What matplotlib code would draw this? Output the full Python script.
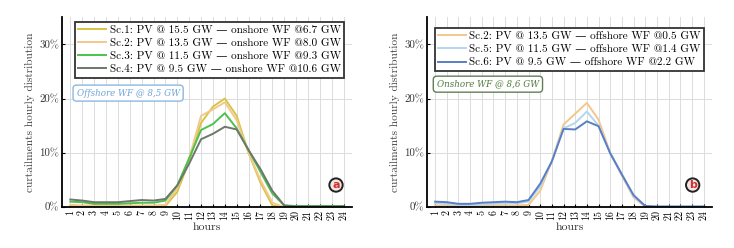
import numpy as np
import matplotlib
matplotlib.use('Agg')
import matplotlib.pyplot as plt

plt.rcParams['font.family'] = ['cmr10', 'DejaVu Serif']
plt.rcParams['axes.formatter.use_mathtext'] = True

# --- data ---
hours = list(range(1, 25))

# panel a: onshore scenarios (offshore WF fixed)
sc1 = [0.1, 0.1, 0.1, 0.1, 0.1, 0.1, 0.1, 0.1, 0.2, 2.8, 8.5, 15.5,
       18.5, 20.0, 16.8, 10.0, 4.5, 0.3, 0.0, 0.0, 0.0, 0.0, 0.0, 0.0]
sc2 = [0.4, 0.3, 0.3, 0.3, 0.3, 0.3, 0.3, 0.3, 0.4, 3.5, 9.0, 16.8,
       18.0, 19.3, 16.0, 10.0, 5.0, 0.8, 0.0, 0.0, 0.0, 0.0, 0.0, 0.0]
sc3 = [1.0, 0.9, 0.6, 0.6, 0.6, 0.7, 0.8, 0.8, 1.2, 4.0, 9.0, 14.2,
       15.3, 17.3, 14.5, 10.5, 6.5, 2.5, 0.3, 0.2, 0.2, 0.2, 0.2, 0.2]
sc4 = [1.4, 1.2, 0.9, 0.9, 0.9, 1.1, 1.3, 1.2, 1.5, 4.0, 8.0, 12.5,
       13.5, 14.8, 14.3, 10.5, 7.0, 3.0, 0.3, 0.1, 0.1, 0.1, 0.1, 0.1]

# panel b: offshore scenarios (onshore WF fixed)
sc2b = [0.3, 0.3, 0.2, 0.2, 0.2, 0.3, 0.3, 0.3, 0.4, 3.0, 8.5, 15.2,
        17.2, 19.2, 16.1, 10.0, 5.8, 1.8, 0.1, 0.0, 0.0, 0.0, 0.0, 0.0]
sc5 = [0.7, 0.6, 0.4, 0.4, 0.5, 0.6, 0.7, 0.7, 1.0, 3.8, 8.5, 14.5,
       15.5, 17.6, 15.0, 10.0, 6.0, 2.0, 0.2, 0.1, 0.1, 0.1, 0.1, 0.1]
sc6 = [1.0, 0.9, 0.6, 0.6, 0.8, 0.9, 1.0, 0.9, 1.3, 4.3, 8.4, 14.4,
       14.3, 15.8, 14.9, 9.9, 6.0, 2.2, 0.2, 0.1, 0.1, 0.1, 0.1, 0.1]

labels_a = ['Sc.1: PV @ 15.5 GW — onshore WF @6.7 GW',
            'Sc.2: PV @ 13.5 GW — onshore WF @8.0 GW',
            'Sc.3: PV @ 11.5 GW — onshore WF @9.3 GW',
            'Sc.4: PV @ 9.5 GW — onshore WF @10.6 GW']
labels_b = ['Sc.2: PV @ 13.5 GW — offshore WF @0.5 GW',
            'Sc.5: PV @ 11.5 GW — offshore WF @1.4 GW',
            'Sc.6: PV @ 9.5 GW — offshore WF @2.2 GW']

colors_a = ['#d6c445', '#f3c88c', '#4cc24c', '#6b786b']
colors_b = ['#f3c88c', '#b4d6f0', '#5a7ec6']

fig = plt.figure(figsize=(7.34, 2.48), dpi=100)
ax_a = fig.add_axes([0.0845, 0.165, 0.395, 0.766])
ax_b = fig.add_axes([0.5817, 0.165, 0.388, 0.766])


def style_axes(ax):
    ax.set_xlim(0.3, 24.7)
    ax.set_ylim(0, 35)
    ax.set_xticks(hours)
    ax.set_xticklabels([str(h) for h in hours], rotation=90, fontsize=7.2)
    ax.set_yticks([0, 10, 20, 30])
    ax.set_yticklabels(['0%', '10%', '20%', '30%'], fontsize=7.8, color='#333333')
    ax.tick_params(direction='in', length=2, width=0.8, pad=2)
    ax.grid(True, color='#dcdcdc', lw=0.7)
    ax.set_axisbelow(True)
    for s in ['top', 'right']:
        ax.spines[s].set_visible(False)
    for s in ['left', 'bottom']:
        ax.spines[s].set_linewidth(1.3)
    ax.set_xlabel('hours', fontsize=8.5, labelpad=2, color='#333333')
    ax.set_ylabel('curtailments hourly distribution', fontsize=8.2, labelpad=3,
                  color='#444444')


for y, c, lab in zip([sc1, sc2, sc3, sc4], colors_a, labels_a):
    ax_a.plot(hours, y, color=c, lw=1.4, label=lab)
for y, c, lab in zip([sc2b, sc5, sc6], colors_b, labels_b):
    ax_b.plot(hours, y, color=c, lw=1.4, label=lab)

for ax in (ax_a, ax_b):
    style_axes(ax)

leg_kw = dict(loc='upper left', borderaxespad=0, fontsize=8, handlelength=2.5,
              handletextpad=0.3, labelspacing=0.3, borderpad=0.3, fancybox=False,
              framealpha=1, edgecolor='#333333')
leg_a = ax_a.legend(bbox_to_anchor=(0.045, 0.975), **leg_kw)
leg_a.get_frame().set_linewidth(1.3)
leg_b = ax_b.legend(bbox_to_anchor=(0.028, 0.942), **leg_kw)
leg_b.get_frame().set_linewidth(1.3)

ax_a.text(0.228, 0.60, 'Offshore WF @ 8,5 GW', transform=ax_a.transAxes,
          ha='center', va='center', fontsize=6.3, style='italic', color='#6fa3d8',
          family=['DejaVu Serif'],
          bbox=dict(boxstyle='round,pad=0.4', fc='white', ec='#8ab8e0', lw=1))
ax_b.text(0.214, 0.647, 'Onshore WF @ 8,6 GW', transform=ax_b.transAxes,
          ha='center', va='center', fontsize=6.3, style='italic', color='#4f7a3c',
          family=['DejaVu Serif'],
          bbox=dict(boxstyle='round,pad=0.4', fc='white', ec='#5f7f55', lw=1))

for ax, letter, xf in [(ax_a, 'a', 0.945), (ax_b, 'b', 0.933)]:
    ax.text(xf, 0.116, letter, transform=ax.transAxes, ha='center', va='center',
            fontsize=8, color='#d03030', fontweight='bold', family=['DejaVu Sans'],
            bbox=dict(boxstyle='circle,pad=0.15', fc='#f6e4e4', ec='#222222', lw=1.4))

fig.savefig('out.png', dpi=100)
